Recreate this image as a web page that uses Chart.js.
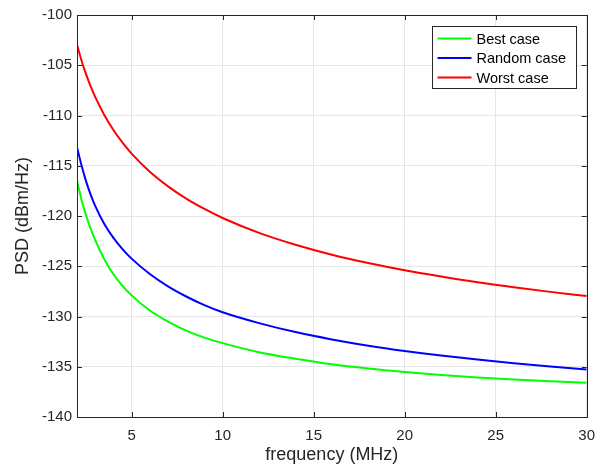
<!DOCTYPE html>
<html>
<head>
<meta charset="utf-8">
<script src="https://cdn.jsdelivr.net/npm/chart.js@4/dist/chart.umd.min.js"></script>
<style>
  html, body { margin: 0; padding: 0; background: #fff; }
</style>
</head>
<body>
<canvas id="psdChart" width="597" height="471"></canvas>
<script>
// values
const freqMHz = [2, 2.25, 2.5, 2.75, 3, 3.5, 4, 4.5, 5, 6, 7, 8, 9, 10, 12, 14, 16, 18, 20, 22, 24, 26, 28, 30];
const bestCase = [-116.5, -118.4, -119.95, -121.25, -122.4, -124.3, -125.8, -126.95, -127.9, -129.4, -130.5, -131.4, -132.1, -132.65,
    -133.55, -134.2, -134.75, -135.17, -135.52, -135.82, -136.07, -136.28, -136.45, -136.6];
const randomCase = [-113.15, -114.98, -116.55, -117.87, -119.0, -120.8, -122.17, -123.29, -124.24, -125.77, -127.0, -128.01, -128.87, -129.58,
    -130.66, -131.55, -132.28, -132.9, -133.43, -133.89, -134.29, -134.65, -134.98, -135.28];
const worstCase = [-102.95, -104.55, -105.9, -107.1, -108.15, -109.95, -111.45, -112.7, -113.8, -115.6, -117.05, -118.27, -119.3, -120.2,
    -121.68, -122.86, -123.85, -124.68, -125.4, -126.02, -126.59, -127.09, -127.55, -127.96];

const seriesNames = ['Best case', 'Random case', 'Worst case'];
const seriesColors = ['#00ff00', '#0000ff', '#ff0000'];
const xTickValues = [5, 10, 15, 20, 25, 30];
const yTickValues = [-140, -135, -130, -125, -120, -115, -110, -105, -100];

const textColor = '#262626';
const fontFamily = '"Liberation Sans", Arial, Helvetica, sans-serif';

function toPoints(ys) {
    return freqMHz.map((f, i) => ({ x: f, y: ys[i] }));
}

// MATLAB style box, inward ticks and boxed legend
const matlabFrame = {
    id: 'matlabFrame',
    afterDraw(chart) {
        const { ctx, chartArea: a, scales } = chart;
        ctx.save();
        ctx.strokeStyle = textColor;
        ctx.lineWidth = 1;
        ctx.beginPath();
        scales.x.ticks.forEach(t => {
            const px = Math.round(scales.x.getPixelForValue(t.value)) + 0.5;
            ctx.moveTo(px, a.bottom); ctx.lineTo(px, a.bottom - 5);
            ctx.moveTo(px, a.top); ctx.lineTo(px, a.top + 5);
        });
        scales.y.ticks.forEach(t => {
            const py = Math.round(scales.y.getPixelForValue(t.value)) + 0.5;
            ctx.moveTo(a.left, py); ctx.lineTo(a.left + 5, py);
            ctx.moveTo(a.right, py); ctx.lineTo(a.right - 5, py);
        });
        ctx.stroke();
        ctx.strokeRect(Math.round(a.left) + 0.5, Math.round(a.top) + 0.5,
            Math.round(a.width), Math.round(a.height));

        // legend
        const boxW = 144, boxH = 62;
        const bx = Math.round(a.right - 11 - boxW) + 0.5;
        const by = Math.round(a.top + 11) + 0.5;
        ctx.fillStyle = '#fff';
        ctx.fillRect(bx, by, boxW, boxH);
        ctx.strokeStyle = textColor;
        ctx.strokeRect(bx, by, boxW, boxH);
        ctx.font = '14.5px ' + fontFamily;
        ctx.textBaseline = 'middle';
        chart.data.datasets.forEach((ds, i) => {
            const cy = by + 12 + i * 19.5;
            ctx.strokeStyle = ds.borderColor;
            ctx.lineWidth = 2;
            ctx.beginPath();
            ctx.moveTo(bx + 5, cy); ctx.lineTo(bx + 39, cy);
            ctx.stroke();
            ctx.fillStyle = '#000';
            ctx.fillText(ds.label, bx + 44, cy + 1);
        });
        ctx.restore();
    }
};

new Chart(document.getElementById('psdChart'), {
    type: 'line',
    data: {
        datasets: [bestCase, randomCase, worstCase].map((ys, i) => ({
            label: seriesNames[i],
            data: toPoints(ys),
            borderColor: seriesColors[i],
            borderWidth: 2,
            pointRadius: 0,
            fill: false,
            cubicInterpolationMode: 'monotone'
        }))
    },
    options: {
        responsive: false,
        animation: false,
        devicePixelRatio: 1,
        layout: { padding: { top: 15, right: 10.3, left: 0, bottom: 0 } },
        plugins: { legend: { display: false }, tooltip: { enabled: false } },
        scales: {
            x: {
                type: 'linear',
                min: 2,
                max: 30,
                afterBuildTicks: s => { s.ticks = xTickValues.map(v => ({ value: v })); },
                afterFit: s => { s.height = 54; s.paddingLeft = 0; s.paddingRight = 0; },
                grid: { color: '#e6e6e6', drawTicks: false },
                border: { display: false },
                ticks: { color: textColor, padding: 10, font: { family: fontFamily, size: 15 } },
                title: {
                    display: true,
                    text: 'frequency (MHz)',
                    color: textColor,
                    font: { family: fontFamily, size: 18 },
                    padding: { top: 0, bottom: 5 }
                }
            },
            y: {
                min: -140,
                max: -100,
                afterBuildTicks: s => { s.ticks = yTickValues.map(v => ({ value: v })); },
                afterFit: s => { s.width = 77; },
                grid: { color: '#e6e6e6', drawTicks: false },
                border: { display: false },
                ticks: { color: textColor, padding: 5, font: { family: fontFamily, size: 15 } },
                title: {
                    display: true,
                    text: 'PSD (dBm/Hz)',
                    color: textColor,
                    font: { family: fontFamily, size: 18 },
                    padding: { top: 12, bottom: 0 }
                }
            }
        }
    },
    plugins: [matlabFrame]
});
</script>
</body>
</html>
